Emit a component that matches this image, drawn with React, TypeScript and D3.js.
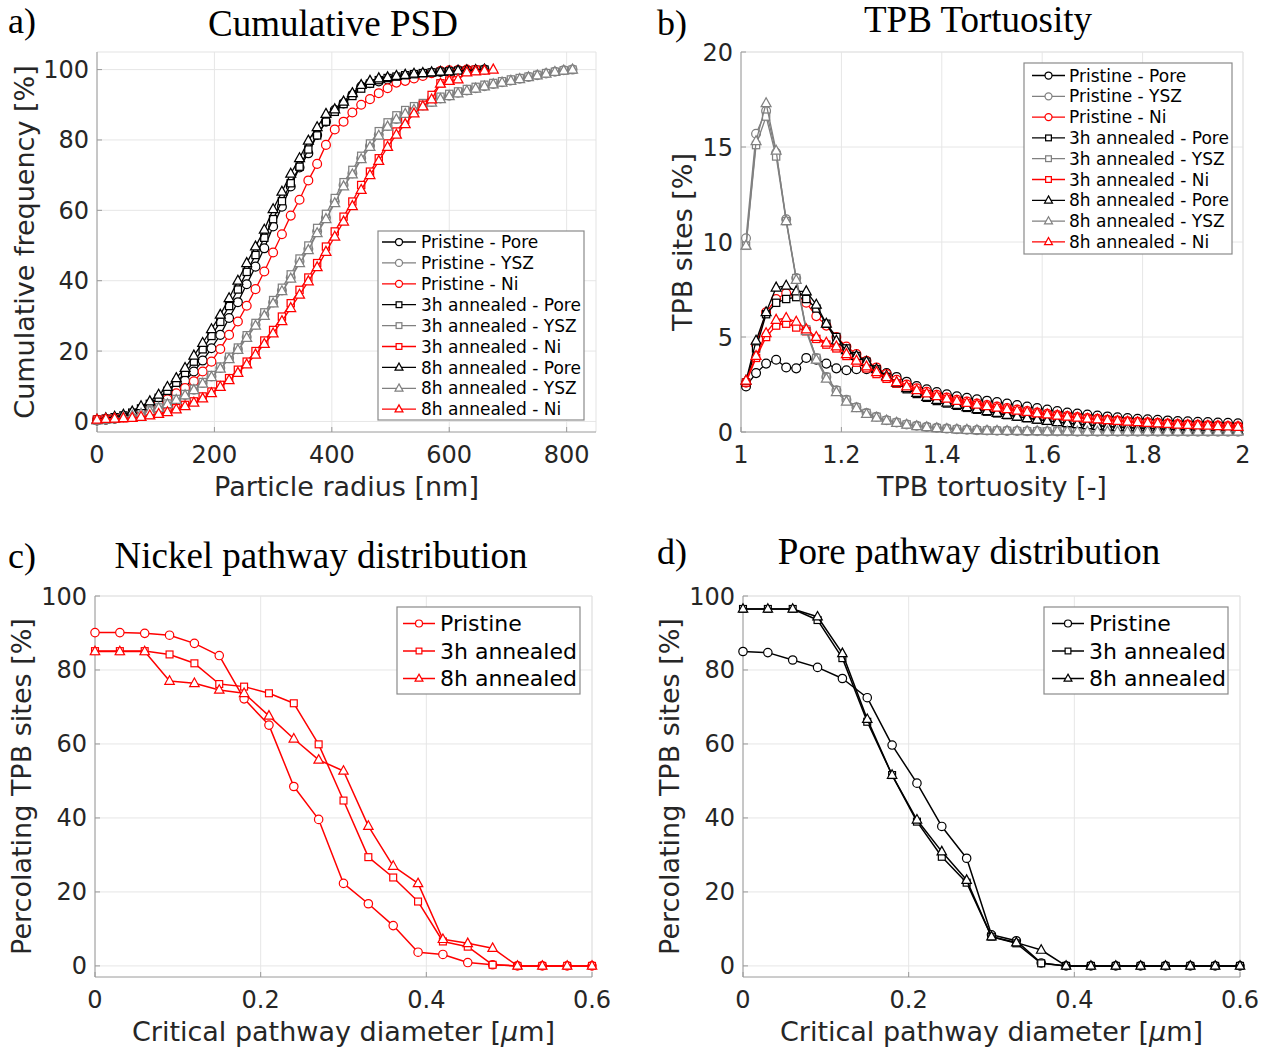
import React from 'react';
import * as d3 from 'd3';

// ---------------- Panel a: Cumulative PSD ----------------
const psdRadius = [0,15,30,45,60,75,90,105,120,135,150,165,180,195,210,225,240,255,270,285,300,315,330,345,360,375,390,405,420,435,450,465,480,495,510,525,540,555,570,585,600,615,630,645,660,675,690,705,720,735,750,765,780,795,810];
const psdPristinePore = [0.3,0.5,0.8,1.2,1.8,2.6,3.8,5.2,7.1,9.0,11.6,14.2,17.3,20.8,24.6,29.4,33.9,39.0,44.0,49.2,55.4,61.0,66.8,72.2,76.2,81.4,85.2,88.5,90.4,92.8,95.2,96.1,96.6,97.2,97.7,98.1,98.5,98.8,99.1,99.3,99.5,99.7,99.8,99.9,100];
const psdPristineYSZ = [0.3,0.5,0.8,1.2,1.7,2.3,3.0,3.9,5.0,6.2,7.5,9.0,10.9,12.8,15.2,18.0,20.5,24.0,27.5,30.3,33.8,37.2,40.9,45.5,49.0,54.0,57.8,62.5,67.2,70.5,74.8,78.3,81.5,84.0,86.0,87.6,88.8,89.8,90.8,91.8,92.6,93.4,94.1,94.7,95.3,95.9,96.4,96.9,97.4,97.9,98.4,98.9,99.4,99.8,100];
const psdPristineNi = [0.5,0.6,0.9,1.3,1.9,2.7,3.7,5.0,6.3,8.0,9.5,11.4,14.2,17.0,20.6,24.6,28.4,32.9,37.6,42.6,48.0,53.2,58.5,63.0,68.5,73.2,78.6,83.0,85.2,87.8,90.0,91.6,93.3,94.7,96.3,96.8,97.5,98.2,99.0,99.6,99.8,99.9,100];
const psd3hPore = [0.5,0.8,1.2,1.7,2.5,3.7,5.0,6.7,8.7,11.0,13.8,17.0,20.5,24.3,28.3,32.8,37.5,42.5,47.3,52.2,57.5,62.6,67.7,72.4,77.3,81.3,85.2,88.0,90.2,92.5,94.6,96.0,97.0,97.6,98.0,98.4,98.7,99.0,99.2,99.4,99.5,99.7,99.8,99.9,100];
const psd3hYSZ = [0.3,0.5,0.8,1.2,1.7,2.4,3.1,4.0,5.1,6.4,7.8,9.3,11.2,13.2,15.6,18.4,21.0,24.5,28.0,31.0,34.5,38.0,41.8,46.3,50.0,55.0,59.0,63.5,68.0,71.5,75.5,79.0,82.5,85.0,87.0,88.5,89.6,90.5,91.4,92.3,93.1,93.8,94.5,95.1,95.7,96.2,96.7,97.2,97.6,98.0,98.5,99.0,99.4,99.8,100];
const psd3hNi = [0.5,0.7,0.8,0.9,1.1,1.4,1.9,2.4,2.8,3.8,4.7,5.7,7.1,8.5,10.4,12.3,14.7,17.0,20.0,23.0,26.0,29.8,33.6,37.4,40.9,45.0,49.7,54.0,58.2,62.5,67.2,71.0,74.8,79.0,82.4,85.7,88.0,90.0,92.8,96.1,96.9,99.0,99.7,100];
const psd8hPore = [0.5,0.9,1.3,1.9,2.8,4.3,5.7,7.6,9.8,12.3,15.2,18.7,22.3,26.2,30.3,35.0,40.0,45.0,49.7,54.5,60.3,65.3,70.4,74.8,79.8,83.6,87.4,88.7,90.9,93.3,95.6,96.8,97.5,97.8,98.2,98.5,98.8,99.0,99.2,99.4,99.5,99.7,99.8,99.9,100];
const psd8hYSZ = [0.3,0.5,0.8,1.1,1.6,2.2,2.9,3.8,4.9,6.1,7.4,8.9,10.7,12.6,15.0,17.7,20.3,23.7,27.2,30.0,33.5,37.0,40.6,45.0,48.7,53.5,57.5,62.0,66.8,70.2,74.5,78.0,81.2,83.8,85.8,87.4,88.6,89.6,90.6,91.6,92.4,93.2,93.9,94.6,95.2,95.8,96.3,96.8,97.3,97.8,98.3,98.8,99.3,99.7,100];
const psd8hNi = [0.5,0.7,0.8,0.9,1.0,1.3,1.7,2.1,2.6,3.4,4.3,5.3,6.5,8.0,9.8,11.7,13.8,16.2,19.0,22.0,25.0,28.5,32.2,36.0,39.8,43.8,48.2,52.5,56.8,61.2,65.8,70.0,74.0,78.0,81.5,84.5,87.5,89.5,91.5,96.0,96.8,97.2,99.2,99.5,99.7,100];

// ---------------- Panel b: TPB Tortuosity ----------------
const tortuosity = [1.01,1.03,1.05,1.07,1.09,1.11,1.13,1.15,1.17,1.19,1.21,1.23,1.25,1.27,1.29,1.31,1.33,1.35,1.37,1.39,1.41,1.43,1.45,1.47,1.49,1.51,1.53,1.55,1.57,1.59,1.61,1.63,1.65,1.67,1.69,1.71,1.73,1.75,1.77,1.79,1.81,1.83,1.85,1.87,1.89,1.91,1.93,1.95,1.97,1.99];
const tbPristinePore = [2.4,3.1,3.6,3.8,3.4,3.35,3.9,3.8,3.6,3.35,3.25,3.3,3.3,3.2,3.1,2.9,2.65,2.42,2.25,2.1,1.98,1.88,1.8,1.72,1.65,1.58,1.5,1.42,1.34,1.26,1.18,1.1,1.03,0.97,0.92,0.87,0.82,0.78,0.74,0.7,0.67,0.64,0.61,0.58,0.56,0.54,0.52,0.5,0.48,0.46];
const tbPristineYSZ = [10.2,15.7,16.9,14.7,11.2,8.1,5.4,3.9,2.9,2.2,1.7,1.3,1.0,0.8,0.62,0.5,0.4,0.33,0.27,0.22,0.18,0.15,0.12,0.1,0.08,0.07,0.06,0.05,0.04,0.04,0.03,0.03,0.03,0.02,0.02,0.02,0.02,0.02,0.01,0.01,0.01,0.01,0.01,0.01,0.01,0.01,0.01,0.01,0.01,0.01];
const tbPristineNi = [2.6,4.6,6.3,7.0,7.3,7.2,6.8,6.1,5.6,5.0,4.5,4.1,3.75,3.4,3.05,2.75,2.5,2.3,2.12,1.96,1.82,1.7,1.6,1.5,1.42,1.34,1.26,1.18,1.1,1.03,0.96,0.9,0.84,0.79,0.74,0.69,0.65,0.61,0.57,0.54,0.51,0.48,0.45,0.42,0.4,0.38,0.36,0.34,0.32,0.3];
const tb3hPore = [2.6,4.4,6.2,6.8,7.0,7.1,7.0,6.5,5.7,5.0,4.4,4.0,3.7,3.3,2.9,2.55,2.25,2.0,1.8,1.63,1.5,1.38,1.27,1.17,1.07,0.98,0.89,0.81,0.73,0.66,0.59,0.53,0.47,0.42,0.38,0.34,0.3,0.27,0.24,0.22,0.2,0.18,0.16,0.15,0.14,0.13,0.12,0.11,0.1,0.1];
const tb3hYSZ = [9.8,15.1,16.6,14.5,11.1,8.1,5.4,3.9,2.9,2.2,1.7,1.3,1.0,0.8,0.62,0.5,0.4,0.32,0.26,0.21,0.17,0.14,0.11,0.09,0.08,0.07,0.06,0.05,0.04,0.04,0.03,0.03,0.03,0.02,0.02,0.02,0.02,0.02,0.01,0.01,0.01,0.01,0.01,0.01,0.01,0.01,0.01,0.01,0.01,0.01];
const tb3hNi = [2.6,3.9,5.0,5.6,5.7,5.5,5.3,4.9,4.6,4.4,4.0,3.65,3.35,3.05,2.8,2.55,2.35,2.17,2.0,1.85,1.72,1.61,1.51,1.42,1.34,1.26,1.18,1.1,1.03,0.96,0.9,0.84,0.79,0.74,0.69,0.65,0.61,0.57,0.53,0.5,0.47,0.44,0.41,0.38,0.36,0.34,0.32,0.3,0.28,0.26];
const tb8hPore = [2.7,4.8,6.3,7.6,7.7,7.4,7.4,6.7,5.7,4.8,4.3,4.0,3.7,3.3,2.95,2.6,2.3,2.05,1.85,1.68,1.54,1.42,1.3,1.2,1.1,1.0,0.9,0.81,0.73,0.65,0.58,0.52,0.46,0.41,0.36,0.32,0.28,0.25,0.22,0.2,0.18,0.16,0.14,0.13,0.12,0.11,0.1,0.09,0.09,0.08];
const tb8hYSZ = [9.8,15.3,17.3,14.8,11.1,8.0,5.3,3.8,2.8,2.1,1.6,1.25,0.95,0.75,0.6,0.48,0.38,0.3,0.25,0.2,0.16,0.13,0.11,0.09,0.07,0.06,0.05,0.05,0.04,0.04,0.03,0.03,0.03,0.02,0.02,0.02,0.02,0.02,0.01,0.01,0.01,0.01,0.01,0.01,0.01,0.01,0.01,0.01,0.01,0.01];
const tb8hNi = [2.7,4.0,5.2,5.9,6.0,5.8,5.4,5.0,4.7,4.5,4.1,3.75,3.45,3.15,2.88,2.62,2.4,2.2,2.03,1.88,1.75,1.63,1.53,1.44,1.36,1.28,1.2,1.12,1.05,0.98,0.92,0.86,0.8,0.75,0.7,0.66,0.62,0.58,0.54,0.51,0.48,0.45,0.42,0.39,0.37,0.35,0.33,0.31,0.29,0.27];

// ---------------- Panels c, d: pathway distributions ----------------
const pathwayDiameter = [0,0.03,0.06,0.09,0.12,0.15,0.18,0.21,0.24,0.27,0.30,0.33,0.36,0.39,0.42,0.45,0.48,0.51,0.54,0.57,0.60];
const niPristine = [90.1,90.1,89.9,89.4,87.2,83.9,72.2,65.1,48.5,39.6,22.3,16.8,10.9,3.7,3.1,0.9,0.3,0,0,0,0];
const ni3h = [85.1,85.1,85.1,84.2,81.8,76.2,75.5,73.7,71.0,59.9,44.7,29.4,23.9,17.4,6.6,5.2,0.3,0,0,0,0];
const ni8h = [85.0,85.0,85.0,77.0,76.4,74.6,73.7,67.6,61.4,55.7,52.7,37.8,27.0,22.3,7.2,6.1,4.8,0,0,0,0];
const porePristine = [85.0,84.7,82.7,80.7,77.7,72.5,59.7,49.4,37.7,29.1,8.4,6.8,0.8,0,0,0,0,0,0,0,0];
const pore3h = [96.5,96.5,96.5,93.5,83.2,66.0,51.6,39.0,29.5,22.5,7.9,6.1,0.7,0,0,0,0,0,0,0,0];
const pore8h = [96.5,96.5,96.5,94.4,84.5,66.7,51.6,39.5,30.9,23.2,7.9,6.3,4.3,0,0,0,0,0,0,0,0];

const psdTicksX = [0, 200, 400, 600, 800];
const psdTicksY = [0, 20, 40, 60, 80, 100];
const tortTicksX = [1, 1.2, 1.4, 1.6, 1.8, 2];
const tortTicksY = [0, 5, 10, 15, 20];
const pathTicksX = [0, 0.2, 0.4, 0.6];
const pathTicksY = [0, 20, 40, 60, 80, 100];

// ---------------- styling ----------------
const BLACK = '#000000';
const GRAY = '#808080';
const RED = '#ff0000';
const TXT = '#262626';
const SANS = "'DejaVu Sans', sans-serif";
const SERIF = "'Liberation Serif', 'Times New Roman', serif";

type Mk = 'o' | 's' | '^';
interface Series { name: string; x: number[]; y: number[]; color: string; marker: Mk; }

function Marker({ type, cx, cy, r, color, sw }: { type: Mk; cx: number; cy: number; r: number; color: string; sw: number }) {
  if (type === 'o') return <circle cx={cx} cy={cy} r={r} fill="#fff" stroke={color} strokeWidth={sw} />;
  if (type === 's') {
    const h = r * 0.82;
    return <rect x={cx - h} y={cy - h} width={2 * h} height={2 * h} fill="#fff" stroke={color} strokeWidth={sw} />;
  }
  const s = r * 1.25;
  const d = `M${cx},${cy - s}L${cx + s * 0.9},${cy + s * 0.62}L${cx - s * 0.9},${cy + s * 0.62}Z`;
  return <path d={d} fill="#fff" stroke={color} strokeWidth={sw} />;
}

interface LegendDef { x0: number; y0: number; x1: number; y1: number; rowY0: number; rowDy: number; lx0: number; lx1: number; tx: number; fs: number; mr: number; }

interface PanelDef {
  left: number; right: number; top: number; bottom: number;
  xDomain: [number, number]; yDomain: [number, number];
  xTicks: number[]; yTicks: number[];
  series: Series[];
  mr: number; lw: number; msw: number;
  title: string; titleX: number; titleY: number;
  letter: string; letterY: number; letterX: number;
  xLabel: React.ReactNode; yLabel: string; yLabelOff: number;
  legend: LegendDef;
}

function Panel({ p }: { p: PanelDef }) {
  const x = d3.scaleLinear().domain(p.xDomain).range([p.left, p.right]);
  const y = d3.scaleLinear().domain(p.yDomain).range([p.bottom, p.top]);
  const lineGen = d3.line<[number, number]>().x(d => x(d[0])).y(d => y(d[1]));
  const path = (s: Series) => lineGen(s.y.map((v, i) => [s.x[i], v] as [number, number])) || '';
  const cy = (p.top + p.bottom) / 2;
  const cx = (p.left + p.right) / 2;
  const L = p.legend;
  return (
    <g>
      {p.xTicks.map(t => <line key={'gx' + t} x1={x(t)} x2={x(t)} y1={p.top} y2={p.bottom} stroke="#e6e6e6" strokeWidth={1} />)}
      {p.yTicks.map(t => <line key={'gy' + t} x1={p.left} x2={p.right} y1={y(t)} y2={y(t)} stroke="#e6e6e6" strokeWidth={1} />)}
      <line x1={p.left} x2={p.right} y1={p.top} y2={p.top} stroke="#e3e3e3" />
      <line x1={p.right} x2={p.right} y1={p.top} y2={p.bottom} stroke="#e3e3e3" />
      <line x1={p.left} x2={p.left} y1={p.top} y2={p.bottom} stroke="#9a9a9a" strokeWidth={1} />
      <line x1={p.left} x2={p.right} y1={p.bottom} y2={p.bottom} stroke="#9a9a9a" strokeWidth={1} />
      {p.xTicks.map(t => <line key={'tx' + t} x1={x(t)} x2={x(t)} y1={p.bottom} y2={p.bottom - 5} stroke="#9a9a9a" />)}
      {p.yTicks.map(t => <line key={'ty' + t} x1={p.left} x2={p.left + 5} y1={y(t)} y2={y(t)} stroke="#9a9a9a" />)}
      {p.xTicks.map(t => (
        <text key={'lx' + t} x={x(t)} y={p.bottom + 31} textAnchor="middle" fontFamily={SANS} fontSize={24} fill={TXT}>{String(t)}</text>
      ))}
      {p.yTicks.map(t => (
        <text key={'ly' + t} x={p.left - 8} y={y(t) + 8.5} textAnchor="end" fontFamily={SANS} fontSize={24} fill={TXT}>{String(t)}</text>
      ))}
      <text x={cx} y={p.bottom + 64} textAnchor="middle" fontFamily={SANS} fontSize={27} fill={TXT}>{p.xLabel}</text>
      <text transform={`translate(${p.left - p.yLabelOff},${cy}) rotate(-90)`} textAnchor="middle" fontFamily={SANS} fontSize={27} fill={TXT}>{p.yLabel}</text>
      <text x={p.titleX} y={p.titleY} textAnchor="middle" fontFamily={SERIF} fontSize={37} fill="#000">{p.title}</text>
      <text x={p.letterX} y={p.letterY} fontFamily={SERIF} fontSize={36} fill="#000">{p.letter}</text>
      {p.series.map((s, si) => (
        <g key={'s' + si}>
          <path d={path(s)} fill="none" stroke={s.color} strokeWidth={p.lw} strokeLinejoin="round" />
          {s.y.map((v, i) => <Marker key={i} type={s.marker} cx={x(s.x[i])} cy={y(v)} r={p.mr} color={s.color} sw={p.msw} />)}
        </g>
      ))}
      <rect x={L.x0} y={L.y0} width={L.x1 - L.x0} height={L.y1 - L.y0} fill="#fff" stroke="#8a8a8a" strokeWidth={1.2} />
      {p.series.map((s, i) => {
        const ry = L.rowY0 + i * L.rowDy;
        return (
          <g key={'lg' + i}>
            <line x1={L.lx0} x2={L.lx1} y1={ry} y2={ry} stroke={s.color} strokeWidth={p.lw} />
            <Marker type={s.marker} cx={(L.lx0 + L.lx1) / 2} cy={ry} r={L.mr} color={s.color} sw={p.msw} />
            <text x={L.tx} y={ry} dy="0.36em" fontFamily={SANS} fontSize={L.fs} fill="#000">{s.name}</text>
          </g>
        );
      })}
    </g>
  );
}

const sliceX = (xs: number[], ys: number[]) => xs.slice(0, ys.length);

const panelA: PanelDef = {
  left: 97, right: 596, top: 52, bottom: 432,
  xDomain: [0, 850], yDomain: [-3, 105],
  xTicks: psdTicksX, yTicks: psdTicksY,
  series: [
    { name: 'Pristine - Pore', x: sliceX(psdRadius, psdPristinePore), y: psdPristinePore, color: BLACK, marker: 'o' },
    { name: 'Pristine - YSZ', x: sliceX(psdRadius, psdPristineYSZ), y: psdPristineYSZ, color: GRAY, marker: 'o' },
    { name: 'Pristine - Ni', x: sliceX(psdRadius, psdPristineNi), y: psdPristineNi, color: RED, marker: 'o' },
    { name: '3h annealed - Pore', x: sliceX(psdRadius, psd3hPore), y: psd3hPore, color: BLACK, marker: 's' },
    { name: '3h annealed - YSZ', x: sliceX(psdRadius, psd3hYSZ), y: psd3hYSZ, color: GRAY, marker: 's' },
    { name: '3h annealed - Ni', x: sliceX(psdRadius, psd3hNi), y: psd3hNi, color: RED, marker: 's' },
    { name: '8h annealed - Pore', x: sliceX(psdRadius, psd8hPore), y: psd8hPore, color: BLACK, marker: '^' },
    { name: '8h annealed - YSZ', x: sliceX(psdRadius, psd8hYSZ), y: psd8hYSZ, color: GRAY, marker: '^' },
    { name: '8h annealed - Ni', x: sliceX(psdRadius, psd8hNi), y: psd8hNi, color: RED, marker: '^' },
  ],
  mr: 4.4, lw: 1.3, msw: 1.25,
  title: 'Cumulative PSD', titleX: 333, titleY: 36,
  letter: 'a)', letterX: 8, letterY: 33,
  xLabel: 'Particle radius [nm]', yLabel: 'Cumulative frequency [%]', yLabelOff: 63,
  legend: { x0: 378, y0: 231, x1: 584, y1: 420, rowY0: 242, rowDy: 20.9, lx0: 382, lx1: 416, tx: 421, fs: 17, mr: 3.5 },
};

const panelB: PanelDef = {
  left: 741, right: 1243, top: 52, bottom: 432,
  xDomain: [1, 2], yDomain: [0, 20],
  xTicks: tortTicksX, yTicks: tortTicksY,
  series: [
    { name: 'Pristine - Pore', x: tortuosity, y: tbPristinePore, color: BLACK, marker: 'o' },
    { name: 'Pristine - YSZ', x: tortuosity, y: tbPristineYSZ, color: GRAY, marker: 'o' },
    { name: 'Pristine - Ni', x: tortuosity, y: tbPristineNi, color: RED, marker: 'o' },
    { name: '3h annealed - Pore', x: tortuosity, y: tb3hPore, color: BLACK, marker: 's' },
    { name: '3h annealed - YSZ', x: tortuosity, y: tb3hYSZ, color: GRAY, marker: 's' },
    { name: '3h annealed - Ni', x: tortuosity, y: tb3hNi, color: RED, marker: 's' },
    { name: '8h annealed - Pore', x: tortuosity, y: tb8hPore, color: BLACK, marker: '^' },
    { name: '8h annealed - YSZ', x: tortuosity, y: tb8hYSZ, color: GRAY, marker: '^' },
    { name: '8h annealed - Ni', x: tortuosity, y: tb8hNi, color: RED, marker: '^' },
  ],
  mr: 4.4, lw: 1.3, msw: 1.25,
  title: 'TPB Tortuosity', titleX: 978, titleY: 32,
  letter: 'b)', letterX: 657, letterY: 35,
  xLabel: 'TPB tortuosity [-]', yLabel: 'TPB sites [%]', yLabelOff: 49,
  legend: { x0: 1024, y0: 63, x1: 1232, y1: 254, rowY0: 75.5, rowDy: 20.8, lx0: 1032, lx1: 1065, tx: 1069, fs: 17, mr: 3.5 },
};

const pathLabel = (
  <>
    Critical pathway diameter [<tspan fontStyle="italic">μ</tspan>m]
  </>
);

const panelC: PanelDef = {
  left: 95, right: 592, top: 596, bottom: 977,
  xDomain: [0, 0.6], yDomain: [-3, 100],
  xTicks: pathTicksX, yTicks: pathTicksY,
  series: [
    { name: 'Pristine', x: pathwayDiameter, y: niPristine, color: RED, marker: 'o' },
    { name: '3h annealed', x: pathwayDiameter, y: ni3h, color: RED, marker: 's' },
    { name: '8h annealed', x: pathwayDiameter, y: ni8h, color: RED, marker: '^' },
  ],
  mr: 4.2, lw: 1.5, msw: 1.2,
  title: 'Nickel pathway distribution', titleX: 321, titleY: 568,
  letter: 'c)', letterX: 8, letterY: 568,
  xLabel: pathLabel, yLabel: 'Percolating TPB sites [%]', yLabelOff: 64,
  legend: { x0: 397, y0: 607, x1: 580, y1: 694, rowY0: 623.5, rowDy: 27.5, lx0: 403, lx1: 435, tx: 440, fs: 22, mr: 3.5 },
};

const panelD: PanelDef = {
  left: 743, right: 1240, top: 596, bottom: 977,
  xDomain: [0, 0.6], yDomain: [-3, 100],
  xTicks: pathTicksX, yTicks: pathTicksY,
  series: [
    { name: 'Pristine', x: pathwayDiameter, y: porePristine, color: BLACK, marker: 'o' },
    { name: '3h annealed', x: pathwayDiameter, y: pore3h, color: BLACK, marker: 's' },
    { name: '8h annealed', x: pathwayDiameter, y: pore8h, color: BLACK, marker: '^' },
  ],
  mr: 4.2, lw: 1.5, msw: 1.2,
  title: 'Pore pathway distribution', titleX: 969, titleY: 564,
  letter: 'd)', letterX: 657, letterY: 564,
  xLabel: pathLabel, yLabel: 'Percolating TPB sites [%]', yLabelOff: 64,
  legend: { x0: 1044, y0: 607, x1: 1228, y1: 694, rowY0: 623.5, rowDy: 27.5, lx0: 1052, lx1: 1084, tx: 1089, fs: 22, mr: 3.5 },
};

export default function App() {
  return (
    <svg width={1268} height={1050} viewBox="0 0 1268 1050" style={{ position: 'absolute', left: 0, top: 0, background: '#fff' }}>
      <rect x={0} y={0} width={1268} height={1050} fill="#fff" />
      <Panel p={panelA} />
      <Panel p={panelB} />
      <Panel p={panelC} />
      <Panel p={panelD} />
    </svg>
  );
}
